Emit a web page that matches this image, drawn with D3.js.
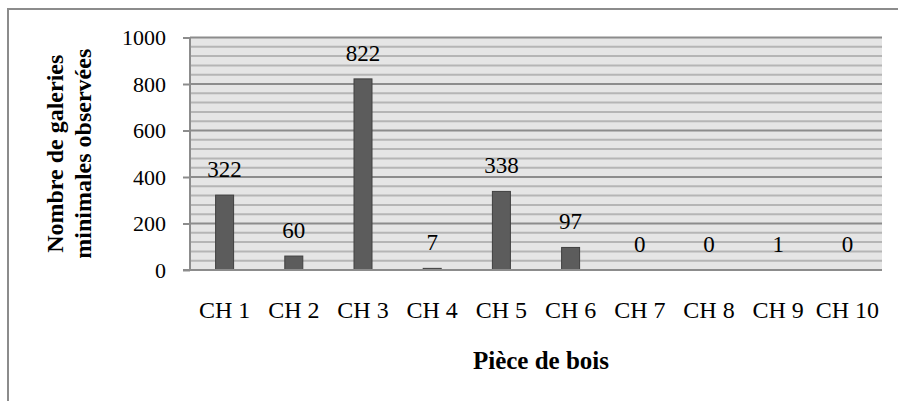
<!DOCTYPE html>
<html><head><meta charset="utf-8">
<script src="https://cdn.jsdelivr.net/npm/d3@7"></script>
<style>html,body{margin:0;padding:0;background:#fff;}svg{display:block;}</style>
</head><body>
<script>
const categories = ["CH 1","CH 2","CH 3","CH 4","CH 5","CH 6","CH 7","CH 8","CH 9","CH 10"];
const values = [322, 60, 822, 7, 338, 97, 0, 0, 1, 0];
const yTicks = [0, 200, 400, 600, 800, 1000];
const yMinorStep = 40;
const xTitle = "Pièce de bois";
const yTitleLines = ["Nombre de galeries", "minimales observées"];

const W = 898, H = 401;
const font = "Liberation Serif, serif";
const svg = d3.select("body").append("svg").attr("width", W).attr("height", H);

// outer frame
svg.append("rect").attr("x", 8).attr("y", 9).attr("width", W + 10).attr("height", H + 10)
  .attr("fill", "none").attr("stroke", "#8c8c8c").attr("stroke-width", 2);

const L = 190, R = 882, T = 37.5, B = 270;
const x = d3.scaleBand().domain(categories).range([L, R]).paddingInner(0).paddingOuter(0);
const y = d3.scaleLinear().domain([0, 1000]).range([B, T]);

svg.append("rect").attr("x", L).attr("y", T).attr("width", R - L).attr("height", B - T).attr("fill", "#e5e5e5");

const minor = d3.range(0, 1000 + 1, yMinorStep).filter(v => v % 200 !== 0);
svg.append("g").selectAll("line").data(minor).join("line")
  .attr("x1", L).attr("x2", R).attr("y1", d => y(d)).attr("y2", d => y(d))
  .attr("stroke", "#b5b5b5").attr("stroke-width", 2);
svg.append("g").selectAll("line").data(yTicks.filter(v => v > 0)).join("line")
  .attr("x1", L).attr("x2", R).attr("y1", d => y(d)).attr("y2", d => y(d))
  .attr("stroke", "#8c8c8c").attr("stroke-width", 2);

// y axis
const yAxis = d3.axisLeft(y).tickValues(yTicks).tickSize(7).tickPadding(17).tickFormat(d3.format("d"));
const gy = svg.append("g").attr("transform", `translate(${L},0)`).call(yAxis)
  .attr("font-family", font).attr("font-size", 22);
gy.select(".domain").attr("stroke", "#8c8c8c").attr("stroke-width", 2).attr("d", `M0,${T}V${B}`);
gy.selectAll(".tick line").attr("stroke", "#8c8c8c").attr("stroke-width", 2);
gy.selectAll(".tick text").attr("fill", "#000");

// bars
const bw = 18;
svg.append("g").selectAll("rect").data(values).join("rect")
  .attr("x", (d, i) => x(categories[i]) + x.bandwidth() / 2 - bw / 2)
  .attr("y", d => y(d))
  .attr("width", bw)
  .attr("height", d => B - y(d))
  .attr("fill", "#5c5c5c").attr("stroke", "#404040").attr("stroke-width", 1);

// x axis line
svg.append("line").attr("x1", 183).attr("x2", R).attr("y1", B).attr("y2", B)
  .attr("stroke", "#8c8c8c").attr("stroke-width", 2);

// value labels
svg.append("g").attr("font-family", font).attr("font-size", 23).selectAll("text").data(values).join("text")
  .attr("x", (d, i) => x(categories[i]) + x.bandwidth() / 2)
  .attr("y", d => y(d) - 18)
  .attr("text-anchor", "middle").attr("fill", "#000")
  .text(d => d);

// x axis labels
const xAxis = d3.axisBottom(x).tickSize(0).tickPadding(31);
const gx = svg.append("g").attr("transform", `translate(0,${B})`).call(xAxis)
  .attr("font-family", font).attr("font-size", 24);
gx.select(".domain").remove();
gx.selectAll(".tick text").attr("fill", "#000");

// titles
svg.append("text").attr("x", 541).attr("y", 369).attr("text-anchor", "middle")
  .attr("font-family", font).attr("font-size", 25).attr("font-weight", "bold").text(xTitle);
const yt = svg.append("text").attr("transform", `translate(0,${(T + B) / 2}) rotate(-90)`)
  .attr("text-anchor", "middle").attr("font-family", font).attr("font-size", 24).attr("font-weight", "bold");
yt.selectAll("tspan").data(yTitleLines).join("tspan")
  .attr("x", 0).attr("y", (d, i) => 63 + i * 28).text(d => d);
</script>
</body></html>
